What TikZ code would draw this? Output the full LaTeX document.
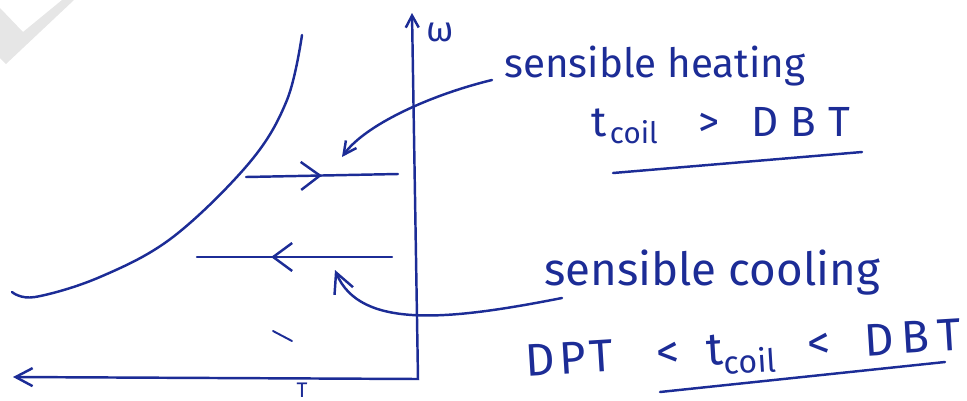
\documentclass[tikz,border=0pt]{standalone}
\usepackage{fontspec}
\setmainfont{Fira Sans}
\usetikzlibrary{arrows.meta, decorations.markings}
\definecolor{ink}{HTML}{1C2C96}
\definecolor{wmgrey}{HTML}{E6E6E6}
\tikzset{
  every picture/.style={line width=1.4pt, line cap=round, color=ink},
  hand/.style={font=\fontsize{#1}{#1}\selectfont, inner sep=0pt, anchor=base west},
  hand/.default=24,
  midarrow/.style={postaction=decorate, decoration={markings,
      mark=at position #1 with {\arrow{Straight Barb[length=3.8mm, width=5.6mm]}}}},
  callout/.style={-{Straight Barb[length=#1, width=#1]}},
  axis/.style={{Straight Barb[length=3.4mm, width=3.6mm]}-{Straight Barb[length=2.4mm, width=2.6mm]}},
}

\begin{document}
\begin{tikzpicture}[x=0.02cm, y=-0.02cm]
  \useasboundingbox (0,0) rectangle (967,400);
  % faint watermark stroke in the corner
  \fill[wmgrey] (0,8) -- (23,32) -- (62,0) -- (74,0) -- (6,64) -- (0,58) -- cycle;

  % axes
  \coordinate (tend) at (13,377);
  \coordinate (origin) at (418,379);
  \coordinate (wend) at (412,13);
  \draw[axis] (tend) -- (origin) -- (wend);
  \node[hand=20, anchor=center] (omega) at (440,32) {ω};
  \node[hand=12, anchor=south] (temp) at (302,399) {T};

  % saturation curve
  \draw plot[smooth, tension=0.6] coordinates {(12,292) (35,297) (100,277) (173,237) (250,162) (287,100) (302,35)};

  % process lines
  \coordinate (h1) at (246,177);
  \coordinate (h2) at (398,174);
  \coordinate (c1) at (392,257);
  \coordinate (c2) at (197,257);
  \draw[midarrow=0.5] (h1) -- (h2);
  \draw[midarrow=0.62] (c1) -- (c2);
  \draw[line width=1.1pt] (273,331) -- (292,341);

  % labels
  \node[hand=23] (heat) at (503,77) {sensible heating};
  \node[hand=24] (heatcond) at (590,136) {t\kern2pt\textsubscript{coil}\hspace{0.95em}>\hspace{0.75em}D\kern7pt B\kern7pt T};
  \draw (613,173) -- (862,152);
  \node[hand=26] (cool) at (543,285) {sensible cooling};
  \node[hand=26, rotate=3.5] (coolcond) at (525,377) {D\kern3pt P\kern2pt T\hspace{0.95em}<\hspace{0.6em}t\textsubscript{coil}\hspace{0.7em}<\hspace{0.75em}D\kern4.5pt B\kern4.5pt T};
  \draw (660,392) -- (945,362);

  % callouts
  \coordinate (hs) at ([xshift=-0.22cm, yshift=-0.06cm]heat.base west);
  \coordinate (cs) at ([xshift=0.38cm, yshift=-0.26cm]cool.base west);
  \draw[callout=2.6mm] (hs) .. controls (430,95) and (365,125) .. (342,157);
  \draw[callout=4mm] (cs) .. controls (450,320) and (360,330) .. (335,270);
\end{tikzpicture}
\end{document}
